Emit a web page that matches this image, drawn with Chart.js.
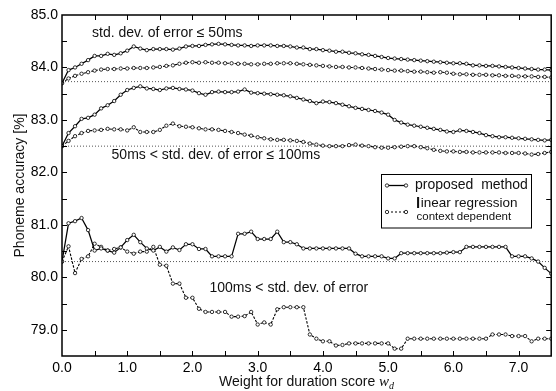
<!DOCTYPE html>
<html>
<head>
<meta charset="utf-8">
<script src="https://cdn.jsdelivr.net/npm/chart.js@4.4.1/dist/chart.umd.min.js"></script>
<style>
  html, body { margin: 0; padding: 0; background: #fff; }
  #wrap { width: 556px; height: 391px; }
</style>
</head>
<body>
<div id="wrap"><canvas id="plot" width="556" height="391"></canvas></div>
<script>
// duration score weights (x axis)
const weights = [
  0.0, 0.1, 0.2, 0.3, 0.4, 0.5, 0.6, 0.7, 0.8, 0.9,
  1.0, 1.1, 1.2, 1.3, 1.4, 1.5, 1.6, 1.7, 1.8, 1.9,
  2.0, 2.1, 2.2, 2.3, 2.4, 2.5, 2.6, 2.7, 2.8, 2.9,
  3.0, 3.1, 3.2, 3.3, 3.4, 3.5, 3.6, 3.7, 3.8, 3.9,
  4.0, 4.1, 4.2, 4.3, 4.4, 4.5, 4.6, 4.7, 4.8, 4.9,
  5.0, 5.1, 5.2, 5.3, 5.4, 5.5, 5.6, 5.7, 5.8, 5.9,
  6.0, 6.1, 6.2, 6.3, 6.4, 6.5, 6.6, 6.7, 6.8, 6.9,
  7.0, 7.1, 7.2, 7.3, 7.4, 7.5
];

// std. dev. of error <= 50ms
const proposed50 = [
  83.70, 83.95, 84.00, 84.07, 84.14, 84.22, 84.22, 84.26, 84.24, 84.27,
  84.32, 84.40, 84.36, 84.33, 84.35, 84.35, 84.35, 84.34, 84.36, 84.40,
  84.41, 84.41, 84.43, 84.44, 84.45, 84.44, 84.43, 84.42, 84.42, 84.41,
  84.42, 84.42, 84.42, 84.41, 84.41, 84.40, 84.38, 84.38, 84.35, 84.35,
  84.33, 84.32, 84.30, 84.30, 84.28, 84.27, 84.25, 84.24, 84.22, 84.20,
  84.18, 84.17, 84.16, 84.15, 84.14, 84.13, 84.12, 84.11, 84.10, 84.09,
  84.08, 84.08, 84.07, 84.04, 84.04, 84.03, 84.03, 84.02, 84.01, 84.00,
  83.99, 83.98, 83.97, 83.96, 83.96, 83.95
];
const linreg50 = [
  83.70, 83.79, 83.84, 83.88, 83.91, 83.94, 83.96, 83.97, 83.97, 83.98,
  83.98, 83.99, 83.99, 83.99, 84.00, 84.01, 84.03, 84.04, 84.07, 84.09,
  84.10, 84.09, 84.10, 84.09, 84.09, 84.08, 84.08, 84.07, 84.07, 84.06,
  84.06, 84.07, 84.07, 84.08, 84.08, 84.08, 84.07, 84.06, 84.05, 84.04,
  84.03, 84.02, 84.01, 84.01, 84.00, 84.00, 83.99, 83.98, 83.97, 83.96,
  83.95, 83.94, 83.94, 83.93, 83.92, 83.92, 83.91, 83.90, 83.91, 83.90,
  83.88, 83.87, 83.87, 83.86, 83.86, 83.86, 83.85, 83.85, 83.84, 83.84,
  83.83, 83.83, 83.83, 83.82, 83.82, 83.81
];

// 50ms < std. dev. of error <= 100ms
const proposed100 = [
  82.50, 82.75, 82.88, 83.02, 83.04, 83.10, 83.22, 83.28, 83.36, 83.48,
  83.57, 83.61, 83.64, 83.60, 83.59, 83.57, 83.60, 83.61, 83.59, 83.58,
  83.56, 83.51, 83.48, 83.53, 83.54, 83.53, 83.53, 83.54, 83.58, 83.52,
  83.51, 83.50, 83.49, 83.48, 83.47, 83.45, 83.42, 83.39, 83.36, 83.32,
  83.35, 83.34, 83.32, 83.29, 83.26, 83.23, 83.21, 83.19, 83.17, 83.14,
  83.10, 83.00, 82.95, 82.91, 82.89, 82.87, 82.85, 82.83, 82.81, 82.78,
  82.77, 82.80, 82.79, 82.77, 82.75, 82.71, 82.69, 82.67, 82.67, 82.66,
  82.65, 82.64, 82.63, 82.62, 82.61, 82.62
];
const linreg100 = [
  82.50, 82.60, 82.69, 82.75, 82.79, 82.80, 82.81, 82.83, 82.82, 82.82,
  82.80, 82.86, 82.77, 82.77, 82.77, 82.81, 82.89, 82.93, 82.88, 82.87,
  82.86, 82.84, 82.82, 82.82, 82.81, 82.79, 82.77, 82.75, 82.72, 82.70,
  82.67, 82.65, 82.63, 82.62, 82.62, 82.61, 82.60, 82.58, 82.55, 82.53,
  82.51, 82.50, 82.50, 82.50, 82.52, 82.53, 82.51, 82.50, 82.48, 82.47,
  82.47, 82.48, 82.49, 82.50, 82.50, 82.48, 82.46, 82.43, 82.41, 82.40,
  82.40, 82.39, 82.39, 82.38, 82.38, 82.38, 82.38, 82.38, 82.37, 82.37,
  82.37, 82.36, 82.34, 82.35, 82.37, 82.39
];

// 100ms < std. dev. of error
const proposedHi = [
  80.30, 81.03, 81.07, 81.13, 80.90, 80.51, 80.55, 80.51, 80.47, 80.57,
  80.71, 80.81, 80.67, 80.55, 80.51, 80.58, 80.49, 80.57, 80.52, 80.63,
  80.63, 80.54, 80.54, 80.40, 80.40, 80.40, 80.40, 80.83, 80.83, 80.87,
  80.73, 80.73, 80.73, 80.87, 80.67, 80.67, 80.63, 80.55, 80.55, 80.55,
  80.55, 80.55, 80.55, 80.55, 80.55, 80.45, 80.40, 80.40, 80.40, 80.40,
  80.36, 80.36, 80.46, 80.46, 80.46, 80.46, 80.46, 80.46, 80.46, 80.47,
  80.48, 80.48, 80.58, 80.58, 80.58, 80.58, 80.58, 80.58, 80.58, 80.40,
  80.40, 80.40, 80.36, 80.30, 80.18, 80.07
];
const linregHi = [
  80.30, 80.59, 80.08, 80.35, 80.40, 80.64, 80.58, 80.51, 80.54, 80.57,
  80.49, 80.45, 80.49, 80.49, 80.58, 80.24, 80.22, 79.88, 79.88, 79.61,
  79.61, 79.40, 79.34, 79.34, 79.34, 79.34, 79.25, 79.25, 79.26, 79.34,
  79.10, 79.14, 79.10, 79.39, 79.43, 79.43, 79.43, 79.43, 78.91, 78.83,
  78.78, 78.78, 78.70, 78.71, 78.74, 78.74, 78.74, 78.74, 78.74, 78.74,
  78.74, 78.64, 78.64, 78.83, 78.83, 78.83, 78.83, 78.83, 78.83, 78.83,
  78.83, 78.83, 78.83, 78.83, 78.83, 78.83, 78.91, 78.91, 78.91, 78.88,
  78.88, 78.88, 78.78, 78.83, 78.83, 78.83
];

// baseline accuracy (dotted lines, w_d = 0)
const baselines = [83.73, 82.50, 80.30];

// tick labels
const xTicks = [0, 1, 2, 3, 4, 5, 6, 7];
const yTicks = [79, 80, 81, 82, 83, 84, 85];

// group captions, placed in data coordinates
const captions = [
  { text: 'std. dev. of error \u2264 50ms', x: 0.46, y: 84.66 },
  { text: '50ms < std. dev. of error \u2264 100ms', x: 0.76, y: 82.32 },
  { text: '100ms < std. dev. of error', x: 2.26, y: 79.80 }
];

const FONT = '"Liberation Sans", Arial, Helvetica, sans-serif';

const toPoints = arr => weights.map((w, i) => ({ x: w, y: arr[i] }));

const solidStyle = {
  borderColor: '#000',
  borderWidth: 1.25,
  pointRadius: 1.7,
  pointBorderWidth: 0.8,
  pointBackgroundColor: '#fff',
  pointBorderColor: '#000',
  tension: 0
};
const dashedStyle = Object.assign({}, solidStyle, { borderWidth: 1.1, borderDash: [2.5, 1.5] });

const datasets = [
  Object.assign({ label: 'proposed method', data: toPoints(proposed50) }, solidStyle),
  Object.assign({ label: 'linear regression', data: toPoints(linreg50) }, dashedStyle),
  Object.assign({ label: 'proposed method', data: toPoints(proposed100) }, solidStyle),
  Object.assign({ label: 'linear regression', data: toPoints(linreg100) }, dashedStyle),
  Object.assign({ label: 'proposed method', data: toPoints(proposedHi) }, solidStyle),
  Object.assign({ label: 'linear regression', data: toPoints(linregHi) }, dashedStyle)
];
baselines.forEach(b => {
  datasets.push({
    label: 'baseline',
    data: [{ x: weights[0], y: b }, { x: weights[weights.length - 1], y: b }],
    borderColor: '#555',
    borderWidth: 1,
    borderDash: [1, 2],
    pointRadius: 0
  });
});

// frame, inward ticks, captions, legend and axis titles
const decorations = {
  id: 'decorations',
  afterDatasetsDraw(chart) {
    const { ctx, chartArea: a, scales } = chart;
    const xs = scales.x, ys = scales.y;
    ctx.save();

    // frame
    ctx.strokeStyle = '#000';
    ctx.lineWidth = 1.5;
    ctx.strokeRect(a.left, a.top, a.right - a.left, a.bottom - a.top);

    // inward ticks every 0.5
    ctx.lineWidth = 1;
    ctx.beginPath();
    for (let v = 0.5; v < 7.5; v += 0.5) {
      const px = Math.round(xs.getPixelForValue(v)) + 0.5;
      ctx.moveTo(px, a.bottom); ctx.lineTo(px, a.bottom - 5);
      ctx.moveTo(px, a.top); ctx.lineTo(px, a.top + 5);
    }
    for (let v = 79; v < 85; v += 0.5) {
      const py = Math.round(ys.getPixelForValue(v)) + 0.5;
      ctx.moveTo(a.left, py); ctx.lineTo(a.left + 5, py);
      ctx.moveTo(a.right, py); ctx.lineTo(a.right - 5, py);
    }
    ctx.stroke();

    // captions
    ctx.fillStyle = '#111';
    ctx.font = '14px ' + FONT;
    ctx.textBaseline = 'middle';
    ctx.textAlign = 'left';
    captions.forEach(c => {
      ctx.fillText(c.text, xs.getPixelForValue(c.x), ys.getPixelForValue(c.y));
    });

    // legend box
    ctx.strokeStyle = '#000';
    ctx.lineWidth = 1;
    ctx.strokeRect(381.5, 174.5, 150, 53.5);
    const sample = (y, dash) => {
      ctx.setLineDash(dash);
      ctx.lineWidth = dash.length ? 1.1 : 1.3;
      ctx.beginPath(); ctx.moveTo(387, y); ctx.lineTo(406, y); ctx.stroke();
      ctx.setLineDash([]);
      ctx.lineWidth = 0.8;
      [387, 406].forEach(px => {
        ctx.beginPath(); ctx.arc(px, y, 1.7, 0, Math.PI * 2);
        ctx.fillStyle = '#fff'; ctx.fill(); ctx.stroke();
      });
    };
    sample(185.5, []);
    sample(212, [2, 2]);
    ctx.fillStyle = '#111';
    ctx.font = '14px ' + FONT;
    ctx.fillText('proposed  method', 415, 185.5);
    ctx.font = 'bold 15px ' + FONT;
    ctx.fillText('l', 416, 203.5);
    const lw = ctx.measureText('l').width;
    ctx.font = '13.5px ' + FONT;
    ctx.fillText('inear regression', 416 + lw + 0.5, 203.5);
    ctx.font = '11.5px ' + FONT;
    ctx.fillText('context dependent', 416.5, 217);

    // y axis title
    ctx.save();
    ctx.translate(20, (a.top + a.bottom) / 2);
    ctx.rotate(-Math.PI / 2);
    ctx.textAlign = 'center';
    ctx.font = '14px ' + FONT;
    ctx.fillText('Phoneme accuracy [%]', 0, 0);
    ctx.restore();

    // x axis title with italic w_d
    const main = 'Weight for duration score ';
    ctx.textBaseline = 'alphabetic';
    ctx.font = '14px ' + FONT;
    const mw = ctx.measureText(main).width;
    ctx.font = 'italic 15px "Liberation Serif", "Times New Roman", serif';
    const ww = ctx.measureText('w').width;
    ctx.font = 'italic 10px "Liberation Serif", "Times New Roman", serif';
    const dw = ctx.measureText('d').width;
    let x0 = (a.left + a.right) / 2 - (mw + ww + dw) / 2;
    const base = 386;
    ctx.font = '14px ' + FONT;
    ctx.fillText(main, x0, base);
    ctx.font = 'italic 15px "Liberation Serif", "Times New Roman", serif';
    ctx.fillText('w', x0 + mw, base);
    ctx.font = 'italic 10px "Liberation Serif", "Times New Roman", serif';
    ctx.fillText('d', x0 + mw + ww, base + 3);

    ctx.restore();
  }
};

const chart = new Chart(document.getElementById('plot').getContext('2d'), {
  type: 'line',
  data: { datasets: datasets },
  options: {
    responsive: false,
    animation: false,
    devicePixelRatio: 1,
    layout: { padding: { top: 15, right: 3, left: 0, bottom: 0 } },
    plugins: {
      legend: { display: false },
      tooltip: { enabled: false }
    },
    scales: {
      x: {
        type: 'linear',
        min: 0,
        max: 7.5,
        grid: { display: false, drawTicks: false },
        border: { display: false },
        afterBuildTicks: s => { s.ticks = xTicks.map(v => ({ value: v })); },
        afterFit: s => { s.height = 35; },
        ticks: {
          autoSkip: false,
          maxRotation: 0,
          padding: 4,
          color: '#000',
          font: { family: FONT, size: 14 },
          callback: v => Number(v).toFixed(1)
        }
      },
      y: {
        type: 'linear',
        min: 78.5,
        max: 85,
        grid: { display: false, drawTicks: false },
        border: { display: false },
        afterBuildTicks: s => { s.ticks = yTicks.map(v => ({ value: v })); },
        afterFit: s => { s.width = 62; },
        ticks: {
          padding: 4,
          color: '#000',
          font: { family: FONT, size: 14 },
          callback: v => Number(v).toFixed(1)
        }
      }
    }
  },
  plugins: [decorations]
});
</script>
</body>
</html>
